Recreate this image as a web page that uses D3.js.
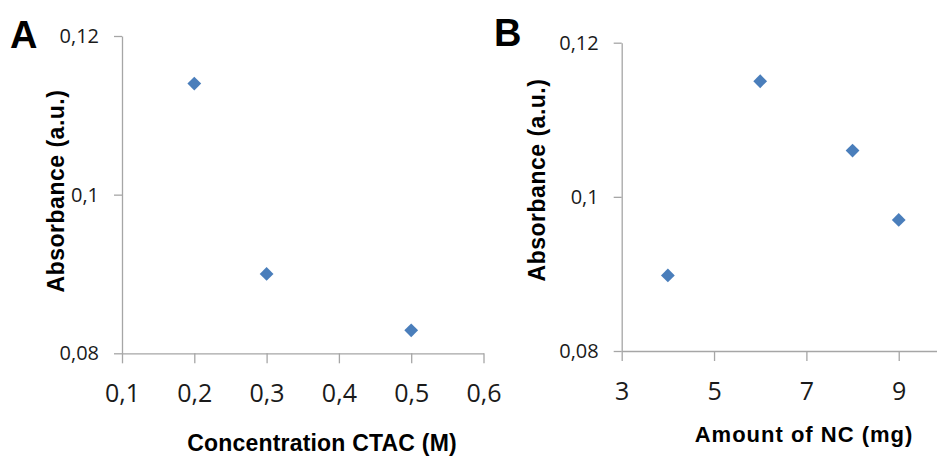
<!DOCTYPE html>
<html lang="en">
<head>
<meta charset="UTF-8">
<title>Absorbance panels</title>
<script src="https://d3js.org/d3.v7.min.js"></script>
<style>
  body { margin: 0; background: #fff; }
  svg { display: block; }
  .tick text { font-family: "Open Sans", sans-serif; fill: #1a1a1a; }
  .domain, .tick line { stroke: #a6a6a6; stroke-width: 1.3; }
  .title { font-family: "Liberation Sans", Arial, sans-serif; font-weight: bold; fill: #000; }
</style>
</head>
<body>
<script>
// panel A data
var ctacConc = [0.2, 0.3, 0.5];
var ctacAbs = [0.114, 0.090, 0.0829];
var ctacTicks = [0.1, 0.2, 0.3, 0.4, 0.5, 0.6];

// panel B data
var ncAmount = [4, 6, 8, 9];
var ncAbs = [0.0898, 0.1150, 0.1060, 0.0970];
var ncTicks = [3, 5, 7, 9];

var absTicks = [0.08, 0.1, 0.12];

var W = 937, H = 456;
var svg = d3.select('body').append('svg').attr('width', W).attr('height', H);

var fmtComma = function(d){ return String(+d.toFixed(3)).replace('.', ','); };

function panel(opt){
    var x = d3.scaleLinear().domain(opt.xDomain).range(opt.xRange);
    var y = d3.scaleLinear().domain([0.08, 0.12]).range(opt.yRange);

    svg.append('g')
        .attr('transform', 'translate(0,' + opt.yRange[0] + ')')
        .call(d3.axisBottom(x).tickValues(opt.xTicks).tickSize(10).tickSizeOuter(0)
              .tickPadding(21).tickFormat(fmtComma))
        .call(g => g.selectAll('text').style('font-size', '25px'));

    svg.append('g')
        .attr('transform', 'translate(' + opt.xRange[0] + ',0)')
        .call(d3.axisLeft(y).tickValues(absTicks).tickSize(8).tickSizeOuter(0)
              .tickPadding(15).tickFormat(fmtComma))
        .call(g => g.selectAll('text').style('font-size', '20px'));

    var pts = opt.xs.map(function(v, i){ return {x: v, y: opt.ys[i]}; });
    svg.append('g').selectAll('path')
        .data(pts)
        .enter()
        .append('path')
        .attr('d', d3.symbol().type(d3.symbolSquare).size(95))
        .attr('transform', function(d){ return 'translate(' + x(d.x) + ',' + y(d.y) + ') rotate(45)'; })
        .style('fill', '#4a7ebb');

    // panel letter
    svg.append('text').attr('class', 'title')
        .attr('x', opt.letterX).attr('y', opt.letterY)
        .style('font-size', '38px')
        .text(opt.letter);

    // axis titles
    svg.append('text').attr('class', 'title')
        .attr('text-anchor', 'middle')
        .attr('x', opt.xTitleX).attr('y', opt.xTitleY)
        .style('font-size', opt.xTitleSize + 'px')
        .style('letter-spacing', opt.xTitleLs + 'px')
        .text(opt.xTitle);

    svg.append('text').attr('class', 'title')
        .attr('text-anchor', 'middle')
        .attr('transform', 'translate(' + opt.yTitleX + ',' + opt.yTitleY + ') rotate(-90)')
        .style('font-size', '23px')
        .style('letter-spacing', '0.5px')
        .text('Absorbance (a.u.)');
}

panel({
    xs: ctacConc, ys: ctacAbs, xTicks: ctacTicks,
    xDomain: [0.1, 0.6], xRange: [122, 483.5], yRange: [353.3, 36],
    letter: 'A', letterX: 10, letterY: 48,
    xTitle: 'Concentration CTAC (M)', xTitleX: 322, xTitleY: 451, xTitleSize: 23, xTitleLs: 0.2,
    yTitleX: 64, yTitleY: 191
});

panel({
    xs: ncAmount, ys: ncAbs, xTicks: ncTicks,
    xDomain: [3, 10], xRange: [621.7, 944.9], yRange: [351, 42.7],
    letter: 'B', letterX: 494, letterY: 46,
    xTitle: 'Amount of NC (mg)', xTitleX: 804, xTitleY: 442, xTitleSize: 22, xTitleLs: 1,
    yTitleX: 545, yTitleY: 180
});
</script>
</body>
</html>
